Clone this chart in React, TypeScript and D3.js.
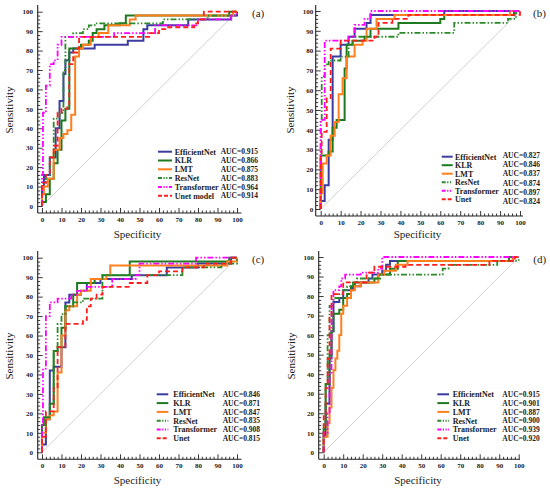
import * as d3 from "d3";
import React, { RefObject, useEffect, useRef } from "react";

// each step: move right to x, then up to y (ROC corner points)
type Step = [number, number];

const namesA = ["EfficientNet", "KLR", "LMT", "ResNet", "Transformer", "Unet model"];
const names = ["EfficientNet", "KLR", "LMT", "ResNet", "Transformer", "Unet"];

const aucA = ["0.915", "0.866", "0.875", "0.883", "0.964", "0.914"];
const aucB = ["0.827", "0.846", "0.837", "0.874", "0.897", "0.824"];
const aucC = ["0.846", "0.871", "0.847", "0.835", "0.908", "0.815"];
const aucD = ["0.915", "0.901", "0.887", "0.900", "0.939", "0.920"];

const colors = ["#3c3ca0", "#1e7a1e", "#ff7f1e", "#2a8a2a", "#ff00ff", "#ff1e1e"];
const dashes = ["none", "none", "none", "6,2,1.5,2,1.5,2", "6,2,1.5,2,1.5,2", "5,3"];

const curvesA: Step[][] = [
  [[0, 10], [1, 16], [4, 25], [7, 40], [9, 54], [11, 68], [12, 75], [14, 79], [16, 81], [27, 83], [44, 85], [52, 91], [54, 93], [75, 96], [97, 98], [100, 100]],
  [[0, 2], [2, 6], [4, 14], [6, 22], [8, 29], [10, 44], [12, 50], [14, 81], [20, 83], [24, 85], [26, 89], [28, 91], [32, 93], [40, 94], [43, 98], [96, 100], [100, 100]],
  [[0, 6], [1, 10], [3, 14], [6, 29], [9, 35], [11, 37], [13, 39], [15, 47], [17, 77], [19, 81], [21, 83], [25, 87], [29, 89], [34, 93], [45, 96], [48, 98], [98, 100], [100, 100]],
  [[0, 12], [2, 16], [4, 25], [6, 45], [9, 48], [11, 70], [12, 87], [16, 89], [21, 91], [24, 93], [27, 94], [62, 96], [85, 98], [100, 100]],
  [[0, 16], [0.5, 48], [2, 62], [4, 73], [6, 75], [8, 83], [10, 87], [37, 89], [58, 93], [80, 96], [97, 98], [100, 100]],
  [[0, 12], [2, 16], [4, 25], [6, 31], [8, 48], [10, 50], [13, 52], [14, 73], [16, 79], [18, 81], [19, 87], [55, 89], [60, 91], [64, 92], [78, 94], [80, 96], [83, 100], [100, 100]],
];

const curvesB: Step[][] = [
  [[0, 4], [2, 12], [4, 35], [6, 77], [10, 83], [14, 87], [17, 91], [23, 94], [25, 98], [62, 100], [100, 100]],
  [[0, 27], [4, 29], [6, 41], [8, 45], [12, 71], [13, 83], [16, 85], [22, 87], [25, 91], [39, 94], [60, 96], [62, 98], [97, 100], [100, 100]],
  [[0, 8], [1, 23], [3, 27], [5, 37], [7, 44], [9, 58], [11, 66], [13, 77], [17, 83], [21, 85], [23, 91], [28, 96], [37, 98], [95, 100], [100, 100]],
  [[0, 45], [0.5, 67], [2, 73], [4, 75], [10, 77], [14, 83], [16, 87], [39, 89], [67, 94], [94, 96], [98, 100], [100, 100]],
  [[0, 45], [2, 85], [14, 87], [17, 93], [22, 96], [25, 100], [100, 100]],
  [[0, 27], [0.5, 39], [3, 56], [5, 81], [10, 85], [27, 87], [29, 94], [36, 96], [44, 98], [100, 100]],
];

const curvesC: Step[][] = [
  [[0, 4], [2, 17], [4, 42], [6, 44], [10, 54], [12, 77], [14, 81], [20, 83], [23, 87], [30, 89], [46, 91], [64, 95], [80, 97], [97, 100], [100, 100]],
  [[0, 14], [1, 18], [4, 25], [6, 52], [8, 54], [10, 64], [12, 75], [16, 81], [18, 87], [27, 89], [31, 91], [45, 98], [96, 100], [100, 100]],
  [[0, 10], [2, 17], [4, 19], [6, 21], [8, 41], [10, 60], [12, 73], [14, 75], [18, 81], [20, 83], [25, 89], [33, 91], [35, 96], [95, 98], [100, 100]],
  [[0, 12], [2, 18], [4, 25], [6, 52], [8, 66], [10, 71], [12, 75], [16, 77], [21, 79], [31, 91], [72, 95], [92, 97], [100, 100]],
  [[0, 15], [0.5, 43], [2, 70], [4, 77], [8, 79], [15, 81], [18, 83], [23, 85], [36, 89], [48, 91], [50, 97], [79, 100], [100, 100]],
  [[0, 8], [2, 21], [6, 33], [8, 54], [12, 66], [21, 68], [23, 75], [25, 79], [28, 81], [31, 85], [45, 87], [54, 91], [60, 93], [72, 95], [83, 97], [97, 100], [100, 100]],
];

const curvesD: Step[][] = [
  [[0, 8], [1, 25], [3, 48], [4, 62], [5, 77], [8, 79], [10, 83], [15, 85], [19, 87], [23, 89], [25, 91], [30, 93], [32, 96], [34, 98], [97, 100], [100, 100]],
  [[0, 12], [1, 35], [3, 50], [4, 62], [5, 71], [8, 73], [10, 79], [12, 81], [14, 85], [16, 87], [26, 89], [28, 91], [34, 94], [38, 98], [95, 100], [100, 100]],
  [[0, 8], [2, 15], [3, 23], [4, 33], [5, 42], [6, 48], [7, 52], [8, 60], [9, 71], [10, 75], [12, 79], [14, 83], [16, 85], [19, 87], [28, 91], [31, 93], [37, 96], [43, 98], [97, 100], [100, 100]],
  [[0, 15], [1, 35], [2, 60], [3, 75], [5, 79], [8, 81], [10, 83], [12, 85], [15, 87], [17, 89], [29, 91], [61, 94], [64, 96], [89, 98], [100, 100]],
  [[0, 10], [2, 20], [3, 40], [4, 75], [5, 83], [8, 85], [9, 89], [11, 91], [19, 92], [28, 94], [30, 100], [100, 100]],
  [[0, 20], [1, 33], [2, 48], [3, 69], [4, 81], [10, 87], [22, 92], [26, 95], [42, 96], [85, 98], [98, 100], [100, 100]],
];

const SERIF = "'Liberation Serif', 'Times New Roman', serif";

interface Layout {
  label: string;
  xr: [number, number];
  yr: [number, number];
  axisX: number;
  axisY: number;
  top: number;
  right: number;
  yPad: number;
  yTitleX: number;
  yTitleY: number;
  xTitleX: number;
  xTitleY: number;
  labelX: number;
  labelY: number;
  legLine: [number, number];
  legText: number;
  legAuc: number;
  legY: number;
  legStep: number;
  aucY: number;
  aucStep: number;
}

const layouts: Layout[] = [
  { label: "(a)", xr: [42, 237], yr: [206, 11.7], axisX: 37.7, axisY: 213, top: 5, right: 241.5, yPad: 4.7,
    yTitleX: 12.5, yTitleY: 110, xTitleX: 137.5, xTitleY: 237.5, labelX: 252, labelY: 17,
    legLine: [158, 172], legText: 174.7, legAuc: 220.7, legY: 151.7, legStep: 8.8, aucY: 151.7, aucStep: 8.8 },
  { label: "(b)", xr: [320.7, 520], yr: [209, 11], axisX: 315.7, axisY: 216, top: 5, right: 523, yPad: 2.5,
    yTitleX: 293.5, yTitleY: 110, xTitleX: 417.5, xTitleY: 237.5, labelX: 533, labelY: 17,
    legLine: [441.7, 452.7], legText: 455, legAuc: 502.7, legY: 156.7, legStep: 8.5, aucY: 155, aucStep: 9.3 },
  { label: "(c)", xr: [42, 237], yr: [452.3, 257.7], axisX: 37.7, axisY: 459.3, top: 251, right: 241.5, yPad: 4.7,
    yTitleX: 12.5, yTitleY: 356, xTitleX: 137.5, xTitleY: 483.5, labelX: 252, labelY: 263,
    legLine: [156.7, 168.3], legText: 173.3, legAuc: 222.7, legY: 394.3, legStep: 8.8, aucY: 394.3, aucStep: 8.8 },
  { label: "(d)", xr: [323.7, 518.7], yr: [452.3, 257], axisX: 318.7, axisY: 459.3, top: 251, right: 520, yPad: 4.7,
    yTitleX: 294.5, yTitleY: 356, xTitleX: 418, xTitleY: 483.5, labelX: 533.3, labelY: 263,
    legLine: [437.3, 449], legText: 452.7, legAuc: 502.3, legY: 394.3, legStep: 8.8, aucY: 394.3, aucStep: 8.8 },
];

const panelCurves = [curvesA, curvesB, curvesC, curvesD];
const panelAucs = [aucA, aucB, aucC, aucD];
const panelNames = [namesA, names, names, names];

const App = () => {
  const d3Ref: RefObject<SVGSVGElement> = useRef(null);

  const drawPanel = (i: number) => {
    const p = layouts[i];
    const svg = d3.select(d3Ref.current);
    const x = d3.scaleLinear().domain([0, 100]).range(p.xr);
    const y = d3.scaleLinear().domain([0, 100]).range(p.yr);
    const g = svg.append("g");

    // reference diagonal
    g.append("line")
      .attr("x1", x(0)).attr("y1", y(0))
      .attr("x2", x(100)).attr("y2", y(100))
      .attr("stroke", "#c4c4c4")
      .attr("stroke-width", 0.8);

    // minor ticks every 2, major every 10 (inward)
    const minor = d3.range(0, 101, 2).filter((v) => v % 10 !== 0);
    const major = d3.range(0, 101, 10);

    const xMinor = g.append("g").attr("transform", `translate(0, ${p.axisY})`)
      .call(d3.axisBottom(x).tickValues(minor).tickSize(-2.5).tickFormat(() => ""));
    const xMajor = g.append("g").attr("transform", `translate(0, ${p.axisY})`)
      .call(d3.axisBottom(x).tickValues(major).tickSize(-5).tickPadding(4).tickFormat((d) => String(d)));
    const yMinor = g.append("g").attr("transform", `translate(${p.axisX}, 0)`)
      .call(d3.axisLeft(y).tickValues(minor).tickSize(-2.5).tickFormat(() => ""));
    const yMajor = g.append("g").attr("transform", `translate(${p.axisX}, 0)`)
      .call(d3.axisLeft(y).tickValues(major).tickSize(-5).tickPadding(p.yPad).tickFormat((d) => String(d)));

    [xMinor, xMajor, yMinor, yMajor].forEach((a) => {
      a.select(".domain").remove();
      a.selectAll("line").attr("stroke", "#222").attr("stroke-width", 0.9);
      a.selectAll("text")
        .attr("font-family", SERIF)
        .attr("font-size", 7)
        .attr("font-weight", "bold")
        .attr("fill", "#222");
    });

    // axis lines
    g.append("line")
      .attr("x1", p.axisX).attr("y1", p.top)
      .attr("x2", p.axisX).attr("y2", p.axisY)
      .attr("stroke", "#222").attr("stroke-width", 1.1);
    g.append("line")
      .attr("x1", p.axisX).attr("y1", p.axisY)
      .attr("x2", p.right).attr("y2", p.axisY)
      .attr("stroke", "#222").attr("stroke-width", 1.1);

    // curves
    const line = d3.line<Step>()
      .x((d) => x(d[0]))
      .y((d) => y(d[1]))
      .curve(d3.curveStepAfter);

    panelCurves[i].forEach((steps, k) => {
      g.append("path")
        .datum([[0, 0] as Step, ...steps])
        .attr("d", line)
        .attr("fill", "none")
        .attr("stroke", colors[k])
        .attr("stroke-width", k >= 3 ? 1.8 : 2)
        .attr("stroke-dasharray", dashes[k]);
    });

    // titles
    g.append("text")
      .attr("transform", `translate(${p.yTitleX}, ${p.yTitleY}) rotate(-90)`)
      .attr("text-anchor", "middle")
      .attr("font-family", SERIF)
      .attr("font-size", 11)
      .attr("fill", "#222")
      .text("Sensitivity");
    g.append("text")
      .attr("x", p.xTitleX)
      .attr("y", p.xTitleY)
      .attr("text-anchor", "middle")
      .attr("font-family", SERIF)
      .attr("font-size", 11)
      .attr("fill", "#222")
      .text("Specificity");
    g.append("text")
      .attr("x", p.labelX)
      .attr("y", p.labelY)
      .attr("font-family", SERIF)
      .attr("font-size", 11)
      .attr("fill", "#222")
      .text(p.label);

    // legend
    const leg = g.append("g");
    panelNames[i].forEach((name, k) => {
      const cy = p.legY + k * p.legStep;
      leg.append("line")
        .attr("x1", p.legLine[0]).attr("x2", p.legLine[1])
        .attr("y1", cy).attr("y2", cy)
        .attr("stroke", colors[k])
        .attr("stroke-width", 2)
        .attr("stroke-dasharray", k === 5 ? "4,2" : k >= 3 ? "4,1.5,1.2,1.5,1.2,1.5" : "none");
      leg.append("text")
        .attr("x", p.legText)
        .attr("y", cy)
        .attr("dy", "0.35em")
        .attr("font-family", SERIF)
        .attr("font-size", 8)
        .attr("font-weight", "bold")
        .attr("fill", "#222")
        .text(name);
      leg.append("text")
        .attr("x", p.legAuc)
        .attr("y", p.aucY + k * p.aucStep)
        .attr("dy", "0.35em")
        .attr("font-family", SERIF)
        .attr("font-size", 7.5)
        .attr("font-weight", "bold")
        .attr("fill", "#222")
        .text(`AUC=${panelAucs[i][k]}`);
    });
  };

  useEffect(() => {
    d3.select(d3Ref.current).selectAll("*").remove();
    layouts.forEach((_, i) => drawPanel(i));
  }, [d3Ref]);

  return (
    <svg
      ref={d3Ref}
      width={550}
      height={492}
      style={{ position: "absolute", left: 0, top: 0, background: "#fff" }}
    />
  );
};

export default App;
